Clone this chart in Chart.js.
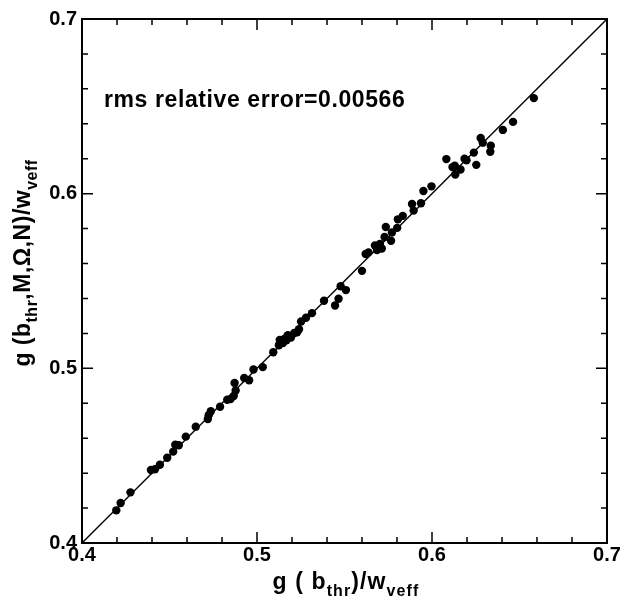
<!DOCTYPE html>
<html>
<head>
<meta charset="utf-8">
<script src="https://cdn.jsdelivr.net/npm/chart.js@4.4.1/dist/chart.umd.min.js"></script>
<style>
  html, body { margin: 0; padding: 0; background: #fff; }
  #wrap { width: 631px; height: 601px; }
</style>
</head>
<body>
<div id="wrap"><canvas id="fitChart" width="631" height="601"></canvas></div>
<script>
/* data */
const fitX = [
  0.4196, 0.4221, 0.4277, 0.4394, 0.4417, 0.4445, 0.4487, 0.4521, 0.4533, 0.4553,
  0.4593, 0.4650, 0.4719, 0.4736, 0.4724, 0.4789, 0.4830, 0.4849, 0.4867, 0.4872,
  0.4878, 0.4927, 0.4955, 0.4980, 0.5033, 0.5093, 0.5125, 0.5130, 0.5148, 0.5160,
  0.5176, 0.5194, 0.5213, 0.5229, 0.5240, 0.5252, 0.5280, 0.5314, 0.5383, 0.5446,
  0.5466, 0.5478, 0.5508, 0.5600, 0.5621, 0.5637, 0.5674, 0.5686, 0.5702, 0.5713,
  0.5729, 0.5736, 0.5766, 0.5771, 0.5801, 0.5805, 0.5833, 0.5895, 0.5886, 0.5937,
  0.5951, 0.5997, 0.6082, 0.6117, 0.6130, 0.6133, 0.6163, 0.6186, 0.6197, 0.6239,
  0.6253, 0.6278, 0.6290, 0.6336, 0.6333, 0.6405, 0.6463, 0.6582, 0.5168, 0.5140
];
const fitY = [
  0.4187, 0.4229, 0.4290, 0.4418, 0.4422, 0.4448, 0.4488, 0.4523, 0.4563, 0.4560,
  0.4609, 0.4666, 0.4710, 0.4754, 0.4732, 0.4780, 0.4820, 0.4824, 0.4842, 0.4916,
  0.4873, 0.4945, 0.4932, 0.4993, 0.5007, 0.5092, 0.5132, 0.5163, 0.5145, 0.5171,
  0.5189, 0.5176, 0.5202, 0.5207, 0.5224, 0.5268, 0.5290, 0.5316, 0.5387, 0.5360,
  0.5398, 0.5470, 0.5448, 0.5558, 0.5655, 0.5664, 0.5703, 0.5677, 0.5712, 0.5686,
  0.5752, 0.5809, 0.5730, 0.5778, 0.5804, 0.5853, 0.5873, 0.5903, 0.5941, 0.5945,
  0.6015, 0.6042, 0.6198, 0.6152, 0.6160, 0.6110, 0.6138, 0.6200, 0.6191, 0.6235,
  0.6165, 0.6319, 0.6292, 0.6275, 0.6240, 0.6365, 0.6411, 0.6547, 0.5160, 0.5150
];
const diagLine = [0.4, 0.7];
const axisMin = 0.4, axisMax = 0.7;
const majorTicks = [0.4, 0.5, 0.6, 0.7];
const minorTicks = [0.42, 0.44, 0.46, 0.48, 0.52, 0.54, 0.56, 0.58, 0.62, 0.64, 0.66, 0.68];
const rmsLabel = 'rms relative error=0.00566';
const xTitle = [['g ( b', 0], ['thr', 1], [')/w', 0], ['veff', 1]];
const yTitle = [['g (b', 0], ['thr', 1], [',M,\u03A9,N)/w', 0], ['veff', 1]];

const FONT = '"Liberation Sans", Arial, Helvetica, sans-serif';

// text with subscripts, centred on x if asked
function drawRich(ctx, parts, x, y, size, subSize, spacing, center){
  ctx.letterSpacing = spacing + 'px';
  let w = 0;
  for(const [t, sub] of parts){
    ctx.font = `bold ${sub ? subSize : size}px ${FONT}`;
    w += ctx.measureText(t).width;
  }
  let cx = center ? x - w/2 : x;
  ctx.textBaseline = 'alphabetic';
  ctx.textAlign = 'left';
  for(const [t, sub] of parts){
    ctx.font = `bold ${sub ? subSize : size}px ${FONT}`;
    ctx.fillText(t, cx, sub ? y + size*0.3 : y);
    cx += ctx.measureText(t).width;
  }
  ctx.letterSpacing = '0px';
}

const framePlugin = {
  id: 'frame',
  afterDraw(chart){
    const {ctx, chartArea: a, scales: {x, y}} = chart;
    ctx.save();
    ctx.strokeStyle = '#000';
    // inward ticks on all four sides
    ctx.lineWidth = 1.5;
    const tick = (list, len) => {
      for(const v of list){
        const px = x.getPixelForValue(v), py = y.getPixelForValue(v);
        ctx.beginPath();
        ctx.moveTo(px, a.bottom); ctx.lineTo(px, a.bottom - len);
        ctx.moveTo(px, a.top); ctx.lineTo(px, a.top + len);
        ctx.moveTo(a.left, py); ctx.lineTo(a.left + len, py);
        ctx.moveTo(a.right, py); ctx.lineTo(a.right - len, py);
        ctx.stroke();
      }
    };
    tick(majorTicks, 11);
    tick(minorTicks, 6);
    ctx.lineWidth = 2;
    ctx.strokeRect(a.left, a.top, a.right - a.left, a.bottom - a.top);

    ctx.fillStyle = '#000';
    // annotation
    ctx.font = `bold 23px ${FONT}`;
    ctx.letterSpacing = '0.6px';
    ctx.textAlign = 'left';
    ctx.textBaseline = 'alphabetic';
    ctx.fillText(rmsLabel, 104, 107);
    ctx.letterSpacing = '0px';
    // axis titles
    drawRich(ctx, xTitle, 346, 589, 23, 16, 1.1, true);
    ctx.translate(30, 263);
    ctx.rotate(-Math.PI/2);
    drawRich(ctx, yTitle, 0, 0, 23, 16, 0.5, true);
    ctx.restore();
  }
};

new Chart(document.getElementById('fitChart'), {
  type: 'scatter',
  data: {
    datasets: [
      {
        type: 'line',
        data: diagLine.map(v => ({x: v, y: v})),
        borderColor: '#000', borderWidth: 1.4, pointRadius: 0, fill: false
      },
      {
        data: fitX.map((v, i) => ({x: v, y: fitY[i]})),
        backgroundColor: '#000', borderColor: '#000', pointRadius: 4.2, borderWidth: 0
      }
    ]
  },
  options: {
    responsive: false,
    animation: false,
    events: [],
    layout: { padding: { top: 19, right: 24, left: 0, bottom: 0 } },
    plugins: { legend: { display: false }, tooltip: { enabled: false } },
    scales: {
      x: {
        type: 'linear', min: axisMin, max: axisMax,
        grid: { display: false, drawTicks: false },
        border: { display: false },
        ticks: { stepSize: 0.1, padding: 0, color: '#000', font: { family: FONT, size: 20, weight: 'bold' },
                 callback: v => v.toFixed(1) },
        afterFit: s => { s.height = 58; }
      },
      y: {
        type: 'linear', min: axisMin, max: axisMax,
        grid: { display: false, drawTicks: false },
        border: { display: false },
        ticks: { stepSize: 0.1, padding: 5, color: '#000', font: { family: FONT, size: 20, weight: 'bold' },
                 callback: v => v.toFixed(1) },
        afterFit: s => { s.width = 82; }
      }
    }
  },
  plugins: [framePlugin]
});
</script>
</body>
</html>
